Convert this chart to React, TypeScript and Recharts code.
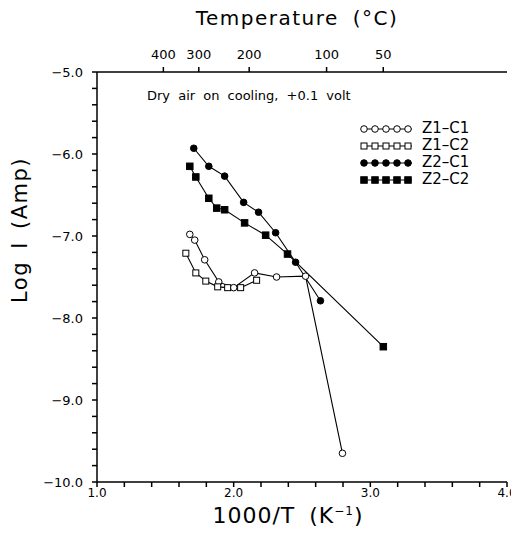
import { LineChart, Line, XAxis, YAxis } from 'recharts';

// 1000/T (K^-1) and log I (Amp)
const z1c1X = [1.679, 1.715, 1.788, 1.891, 2.0, 2.153, 2.314, 2.526, 2.796];
const z1c1Y = [-6.98, -7.05, -7.29, -7.56, -7.63, -7.45, -7.5, -7.49, -9.65];

const z1c2X = [1.65, 1.723, 1.796, 1.883, 1.956, 2.051, 2.168];
const z1c2Y = [-7.21, -7.45, -7.55, -7.62, -7.63, -7.63, -7.54];

const z2c1X = [1.708, 1.818, 1.934, 2.073, 2.182, 2.307, 2.453, 2.635];
const z2c1Y = [-5.93, -6.15, -6.27, -6.59, -6.71, -6.96, -7.32, -7.79];

const z2c2X = [1.679, 1.723, 1.818, 1.876, 1.934, 2.08, 2.234, 2.394, 3.095];
const z2c2Y = [-6.15, -6.28, -6.54, -6.66, -6.68, -6.84, -6.99, -7.22, -8.35];

const xTicks = [1.0, 1.2, 1.4, 1.6, 1.8, 2.0, 2.2, 2.4, 2.6, 2.8, 3.0, 3.2, 3.4, 3.6, 3.8, 4.0];
const yTicks = [-10, -9.8, -9.6, -9.4, -9.2, -9, -8.8, -8.6, -8.4, -8.2, -8, -7.8, -7.6, -7.4, -7.2, -7, -6.8, -6.6, -6.4, -6.2, -6, -5.8, -5.6, -5.4, -5.2, -5];
const tempTicksC = [400, 300, 200, 100, 50];

const zip = (xs: number[], ys: number[]) => xs.map((x, i) => ({ x, y: ys[i] }));

const FONT = 'DejaVu Sans, sans-serif';

type Kind = 'openCircle' | 'openSquare' | 'fillCircle' | 'fillSquare';

function marker(kind: Kind, cx: number, cy: number, key?: string | number) {
  const open = kind === 'openCircle' || kind === 'openSquare';
  const fill = open ? '#fff' : '#000';
  if (kind === 'openCircle' || kind === 'fillCircle') {
    return <circle key={key} cx={cx} cy={cy} r={3.3} fill={fill} stroke="#000" strokeWidth={1} />;
  }
  const s = open ? 6 : 6.5;
  return <rect key={key} x={cx - s / 2} y={cy - s / 2} width={s} height={s} fill={fill} stroke="#000" strokeWidth={1} />;
}

const series: { name: string; kind: Kind; data: { x: number; y: number }[] }[] = [
  { name: 'Z1\u2013C1', kind: 'openCircle', data: zip(z1c1X, z1c1Y) },
  { name: 'Z1\u2013C2', kind: 'openSquare', data: zip(z1c2X, z1c2Y) },
  { name: 'Z2\u2013C1', kind: 'fillCircle', data: zip(z2c1X, z2c1Y) },
  { name: 'Z2\u2013C2', kind: 'fillSquare', data: zip(z2c2X, z2c2Y) },
];

const isMajor = (v: number) => Math.abs(v - Math.round(v)) < 1e-6;

function LegendBox() {
  return (
    <div style={{ position: 'absolute', left: 360, top: 120, fontFamily: FONT, fontSize: 15, lineHeight: '17px', color: '#000' }}>
      {series.map((s) => (
        <div key={s.name} style={{ display: 'flex', alignItems: 'center', height: 17 }}>
          <svg width={56} height={12} style={{ marginRight: 6 }}>
            <line x1={3} y1={6} x2={52} y2={6} stroke="#000" strokeWidth={1} />
            {[4, 15, 26, 37, 48].map((mx) => marker(s.kind, mx, 6, mx))}
          </svg>
          <span>{s.name}</span>
        </div>
      ))}
    </div>
  );
}

export default function App() {
  return (
    <div style={{ position: 'relative', width: 519, height: 533, margin: '-8px 0 0 -8px', background: '#fff' }}>
      <LineChart width={519} height={533} margin={{ top: 42, right: 12, bottom: 21, left: 37 }}>
        <XAxis
          xAxisId="bottom"
          type="number"
          dataKey="x"
          domain={[1, 4]}
          ticks={xTicks}
          interval={0}
          tickFormatter={(v: number) => (isMajor(v) ? v.toFixed(1) : '')}
          tick={{ fill: '#000', fontSize: 12, fontFamily: FONT }}
          tickSize={5}
          tickMargin={1}
          stroke="#000"
          strokeWidth={1.5}
          height={30}
          allowDataOverflow
        />
        <XAxis
          xAxisId="top"
          orientation="top"
          type="number"
          dataKey="x"
          domain={[1, 4]}
          ticks={tempTicksC.map((t) => 1000 / (t + 273.15))}
          interval={0}
          tickFormatter={(v: number) => String(Math.round(1000 / v - 273.15))}
          tick={{ fill: '#000', fontSize: 13, fontFamily: FONT }}
          tickSize={5}
          tickMargin={8}
          stroke="#000"
          strokeWidth={1.5}
          height={30}
          allowDataOverflow
        />
        <YAxis
          yAxisId="left"
          type="number"
          domain={[-10, -5]}
          ticks={yTicks}
          interval={0}
          tickFormatter={(v: number) => (isMajor(v) ? '\u2212' + Math.abs(v).toFixed(1) : '')}
          tick={{ fill: '#000', fontSize: 13, fontFamily: FONT }}
          tickSize={5}
          tickMargin={9}
          stroke="#000"
          strokeWidth={1.5}
          width={60}
          allowDataOverflow
        />
        <YAxis yAxisId="right" orientation="right" type="number" domain={[-10, -5]} tick={false} tickLine={false} stroke="#000" strokeWidth={1.5} width={0} allowDataOverflow />
        {/* invisible copy so the temperature axis has data bound to it */}
        <Line
          xAxisId="top"
          yAxisId="right"
          data={series[3].data}
          dataKey="y"
          stroke="none"
          dot={false}
          activeDot={false}
          legendType="none"
          isAnimationActive={false}
        />
        {series.map((s) => (
          <Line
            key={s.name}
            xAxisId="bottom"
            yAxisId="left"
            data={s.data}
            dataKey="y"
            name={s.name}
            stroke="#000"
            strokeWidth={1.1}
            isAnimationActive={false}
            dot={(p: any) => marker(s.kind, p.cx, p.cy, p.index)}
            activeDot={false}
          />
        ))}
      </LineChart>

      <LegendBox />
      <div style={{ position: 'absolute', left: 0, width: 519, top: 6, textAlign: 'center', paddingLeft: 75, boxSizing: 'border-box', fontFamily: FONT, fontSize: 20, letterSpacing: 1.5, wordSpacing: 6 }}>
        Temperature (°C)
      </div>
      <div style={{ position: 'absolute', left: 147, top: 88, fontFamily: FONT, fontSize: 13, wordSpacing: 4 }}>
        Dry air on cooling, +0.1 volt
      </div>
      <div style={{ position: 'absolute', left: 20, top: 230, transform: 'translate(-50%, -50%) rotate(-90deg)', whiteSpace: 'nowrap', fontFamily: FONT, fontSize: 21, letterSpacing: 1.5, wordSpacing: 4 }}>
        Log I (Amp)
      </div>
      <div style={{ position: 'absolute', left: 288, top: 516, transform: 'translate(-50%, -50%)', whiteSpace: 'nowrap', fontFamily: FONT, fontSize: 22, lineHeight: '24px', letterSpacing: 1, wordSpacing: 6 }}>
        1000/T (K<sup style={{ fontSize: 12, lineHeight: 0 }}>−1</sup>)
      </div>
    </div>
  );
}
